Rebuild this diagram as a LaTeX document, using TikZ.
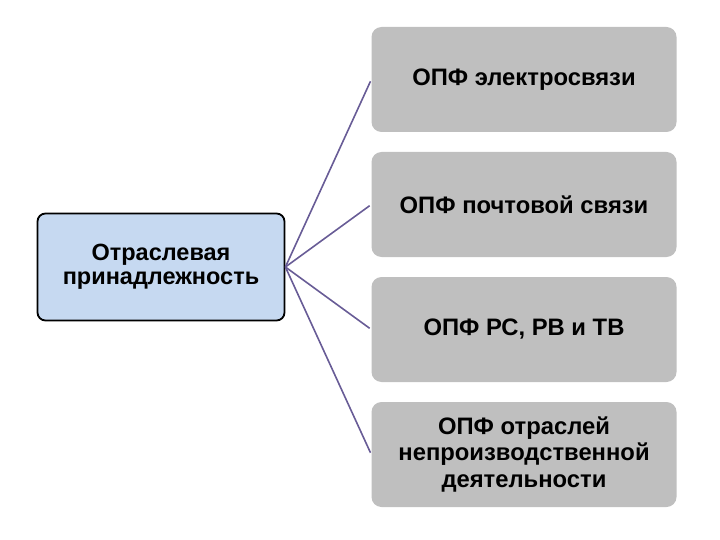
\documentclass[tikz,border=0pt]{standalone}
\usepackage{fontspec}
\setmainfont{Liberation Sans}
\usepackage{xcolor}
\usetikzlibrary{positioning}

\definecolor{rootfill}{RGB}{198,217,241}
\definecolor{opffill}{RGB}{191,191,191}
\definecolor{linkcol}{RGB}{104,92,150}

\begin{document}
\begin{tikzpicture}[
    x=1pt, y=-1pt,
    rootbox/.style={draw=black, line width=1.8pt, fill=rootfill, rounded corners=8pt, minimum width=247pt, minimum height=107pt, inner sep=0pt, align=center, font=\fontsize{23.5}{24}\selectfont\bfseries},
    opfbox/.style={fill=opffill, rounded corners=10pt, minimum width=305pt, minimum height=105pt, inner sep=0pt, align=center, font=\fontsize{23.8}{26.5}\selectfont\bfseries},
    link/.style={draw=linkcol, line width=1.6pt, shorten >=2pt},
]
\useasboundingbox (0,0) rectangle (720,540);

% Root node
\node[rootbox] (root) at (161,267) {Отраслевая\\принадлежность};

% Branches
\foreach \i/\y/\lab in {1/79.5/{ОПФ электросвязи}, 2/204.5/{ОПФ почтовой связи}, 3/329.5/{ОПФ РС, РВ и ТВ}, 4/454.5/{ОПФ отраслей\\непроизводственной\\деятельности}} {
    \node[opfbox] (opf\i) at (524,\y) {\lab};
}

% Connectors
\foreach \i in {1,...,4} {
    \draw[link] (root.east) -- (opf\i.west);
}

\end{tikzpicture}
\end{document}
